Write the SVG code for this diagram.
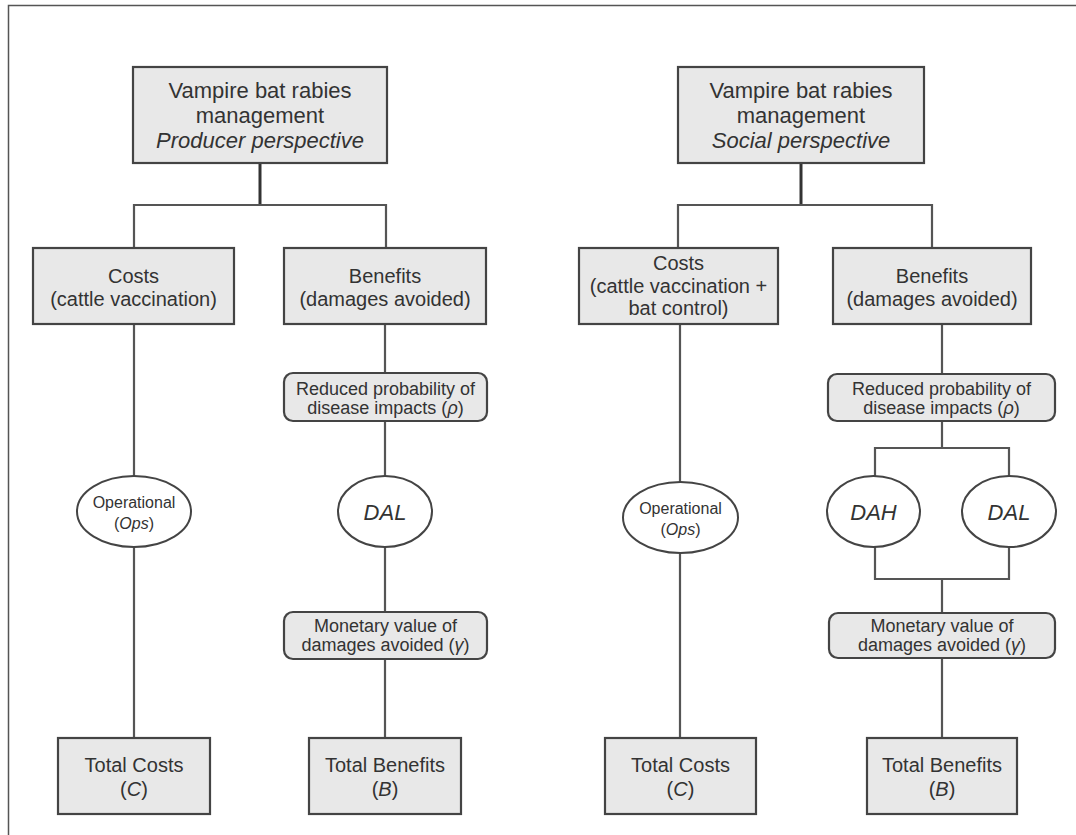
<svg xmlns="http://www.w3.org/2000/svg" width="1076" height="835" viewBox="0 0 1076 835">
<style>
.bg{fill:#ffffff}
.frame{fill:none;stroke:#555;stroke-width:1.5}
.box{fill:#e8e8e8;stroke:#444;stroke-width:2.2}
.ell{fill:#ffffff;stroke:#444;stroke-width:2}
.ln{fill:none;stroke:#555;stroke-width:2.2}
.trunk{fill:none;stroke:#333;stroke-width:3}
text{font-family:"Liberation Sans",Arial,sans-serif;fill:#333;text-anchor:middle}
.t22{font-size:22px}
.t20{font-size:20px}
.t18{font-size:18px}
.t16{font-size:16px}
.i{font-style:italic}
</style>
<rect class="bg" x="0" y="0" width="1076" height="835"/>
<rect class="frame" x="8.5" y="5.5" width="1200" height="1000"/>

<g id="connectors">
  <path class="trunk" d="M260,163 V205"/>
  <path class="ln" d="M134,248 V205 H386 V248"/>
  <path class="ln" d="M134,324 V476 M134,547 V738"/>
  <path class="ln" d="M385,324 V373 M385,421 V476 M385,547 V612 M385,659 V738"/>
  <path class="trunk" d="M801,163 V205"/>
  <path class="ln" d="M678,248 V205 H932 V248"/>
  <path class="ln" d="M680,324 V482 M680,553 V738"/>
  <path class="ln" d="M942,324 V374 M942,421 V448 M875,476 V448 H1009 V476"/>
  <path class="ln" d="M875,547 V579 H1009 V547 M942,579 V613 M942,658 V738"/>
</g>

<g id="top-producer">
  <rect class="box" x="133" y="67" width="254" height="96"/>
  <text class="t22" x="260" y="98">Vampire bat rabies</text>
  <text class="t22" x="260" y="123">management</text>
  <text class="t22 i" x="260" y="148">Producer perspective</text>
</g>
<g id="costs-producer">
  <rect class="box" x="33" y="248" width="201" height="76"/>
  <text class="t20" x="133.5" y="283">Costs</text>
  <text class="t20" x="133.5" y="306">(cattle vaccination)</text>
</g>
<g id="benefits-producer">
  <rect class="box" x="284" y="248" width="202" height="76"/>
  <text class="t20" x="385" y="283">Benefits</text>
  <text class="t20" x="385" y="306">(damages avoided)</text>
</g>
<g id="rho-producer">
  <rect class="box" x="284" y="373" width="203" height="48" rx="9"/>
  <text class="t18" x="385.5" y="395">Reduced probability of</text>
  <text class="t18" x="385.5" y="414">disease impacts (<tspan class="i">ρ</tspan>)</text>
</g>
<g id="ops-producer">
  <ellipse class="ell" cx="134" cy="511.5" rx="57" ry="35.5"/>
  <text class="t16" x="134" y="508">Operational</text>
  <text class="t16" x="134" y="529">(<tspan class="i">Ops</tspan>)</text>
</g>
<g id="dal-producer">
  <ellipse class="ell" cx="385" cy="511.5" rx="47" ry="35.5"/>
  <text class="t22 i" x="385" y="520">DAL</text>
</g>
<g id="gamma-producer">
  <rect class="box" x="284" y="612" width="203" height="47" rx="9"/>
  <text class="t18" x="385.5" y="632">Monetary value of</text>
  <text class="t18" x="385.5" y="651">damages avoided (<tspan class="i">γ</tspan>)</text>
</g>
<g id="totalcosts-producer">
  <rect class="box" x="58" y="738" width="152" height="76"/>
  <text class="t20" x="134" y="772">Total Costs</text>
  <text class="t20" x="134" y="796">(<tspan class="i">C</tspan>)</text>
</g>
<g id="totalbenefits-producer">
  <rect class="box" x="309" y="738" width="152" height="76"/>
  <text class="t20" x="385" y="772">Total Benefits</text>
  <text class="t20" x="385" y="796">(<tspan class="i">B</tspan>)</text>
</g>

<g id="top-social">
  <rect class="box" x="678" y="67" width="246" height="96"/>
  <text class="t22" x="801" y="98">Vampire bat rabies</text>
  <text class="t22" x="801" y="123">management</text>
  <text class="t22 i" x="801" y="148">Social perspective</text>
</g>
<g id="costs-social">
  <rect class="box" x="579" y="248" width="199" height="76"/>
  <text class="t20" x="678.5" y="270">Costs</text>
  <text class="t20" x="678.5" y="293">(cattle vaccination +</text>
  <text class="t20" x="678.5" y="315">bat control)</text>
</g>
<g id="benefits-social">
  <rect class="box" x="833" y="248" width="198" height="76"/>
  <text class="t20" x="932" y="283">Benefits</text>
  <text class="t20" x="932" y="306">(damages avoided)</text>
</g>
<g id="rho-social">
  <rect class="box" x="828" y="374" width="227" height="47" rx="9"/>
  <text class="t18" x="941.5" y="395">Reduced probability of</text>
  <text class="t18" x="941.5" y="414">disease impacts (<tspan class="i">ρ</tspan>)</text>
</g>
<g id="ops-social">
  <ellipse class="ell" cx="680.5" cy="517.5" rx="57.5" ry="35.5"/>
  <text class="t16" x="680.5" y="514">Operational</text>
  <text class="t16" x="680.5" y="535">(<tspan class="i">Ops</tspan>)</text>
</g>
<g id="dah-social">
  <ellipse class="ell" cx="873.5" cy="511.5" rx="46.5" ry="35.5"/>
  <text class="t22 i" x="873.5" y="520">DAH</text>
</g>
<g id="dal-social">
  <ellipse class="ell" cx="1009" cy="511.5" rx="47" ry="35.5"/>
  <text class="t22 i" x="1009" y="520">DAL</text>
</g>
<g id="gamma-social">
  <rect class="box" x="829" y="613" width="226" height="45" rx="9"/>
  <text class="t18" x="942" y="632">Monetary value of</text>
  <text class="t18" x="942" y="651">damages avoided (<tspan class="i">γ</tspan>)</text>
</g>
<g id="totalcosts-social">
  <rect class="box" x="605" y="738" width="151" height="76"/>
  <text class="t20" x="680.5" y="772">Total Costs</text>
  <text class="t20" x="680.5" y="796">(<tspan class="i">C</tspan>)</text>
</g>
<g id="totalbenefits-social">
  <rect class="box" x="867" y="738" width="150" height="76"/>
  <text class="t20" x="942" y="772">Total Benefits</text>
  <text class="t20" x="942" y="796">(<tspan class="i">B</tspan>)</text>
</g>
</svg>
